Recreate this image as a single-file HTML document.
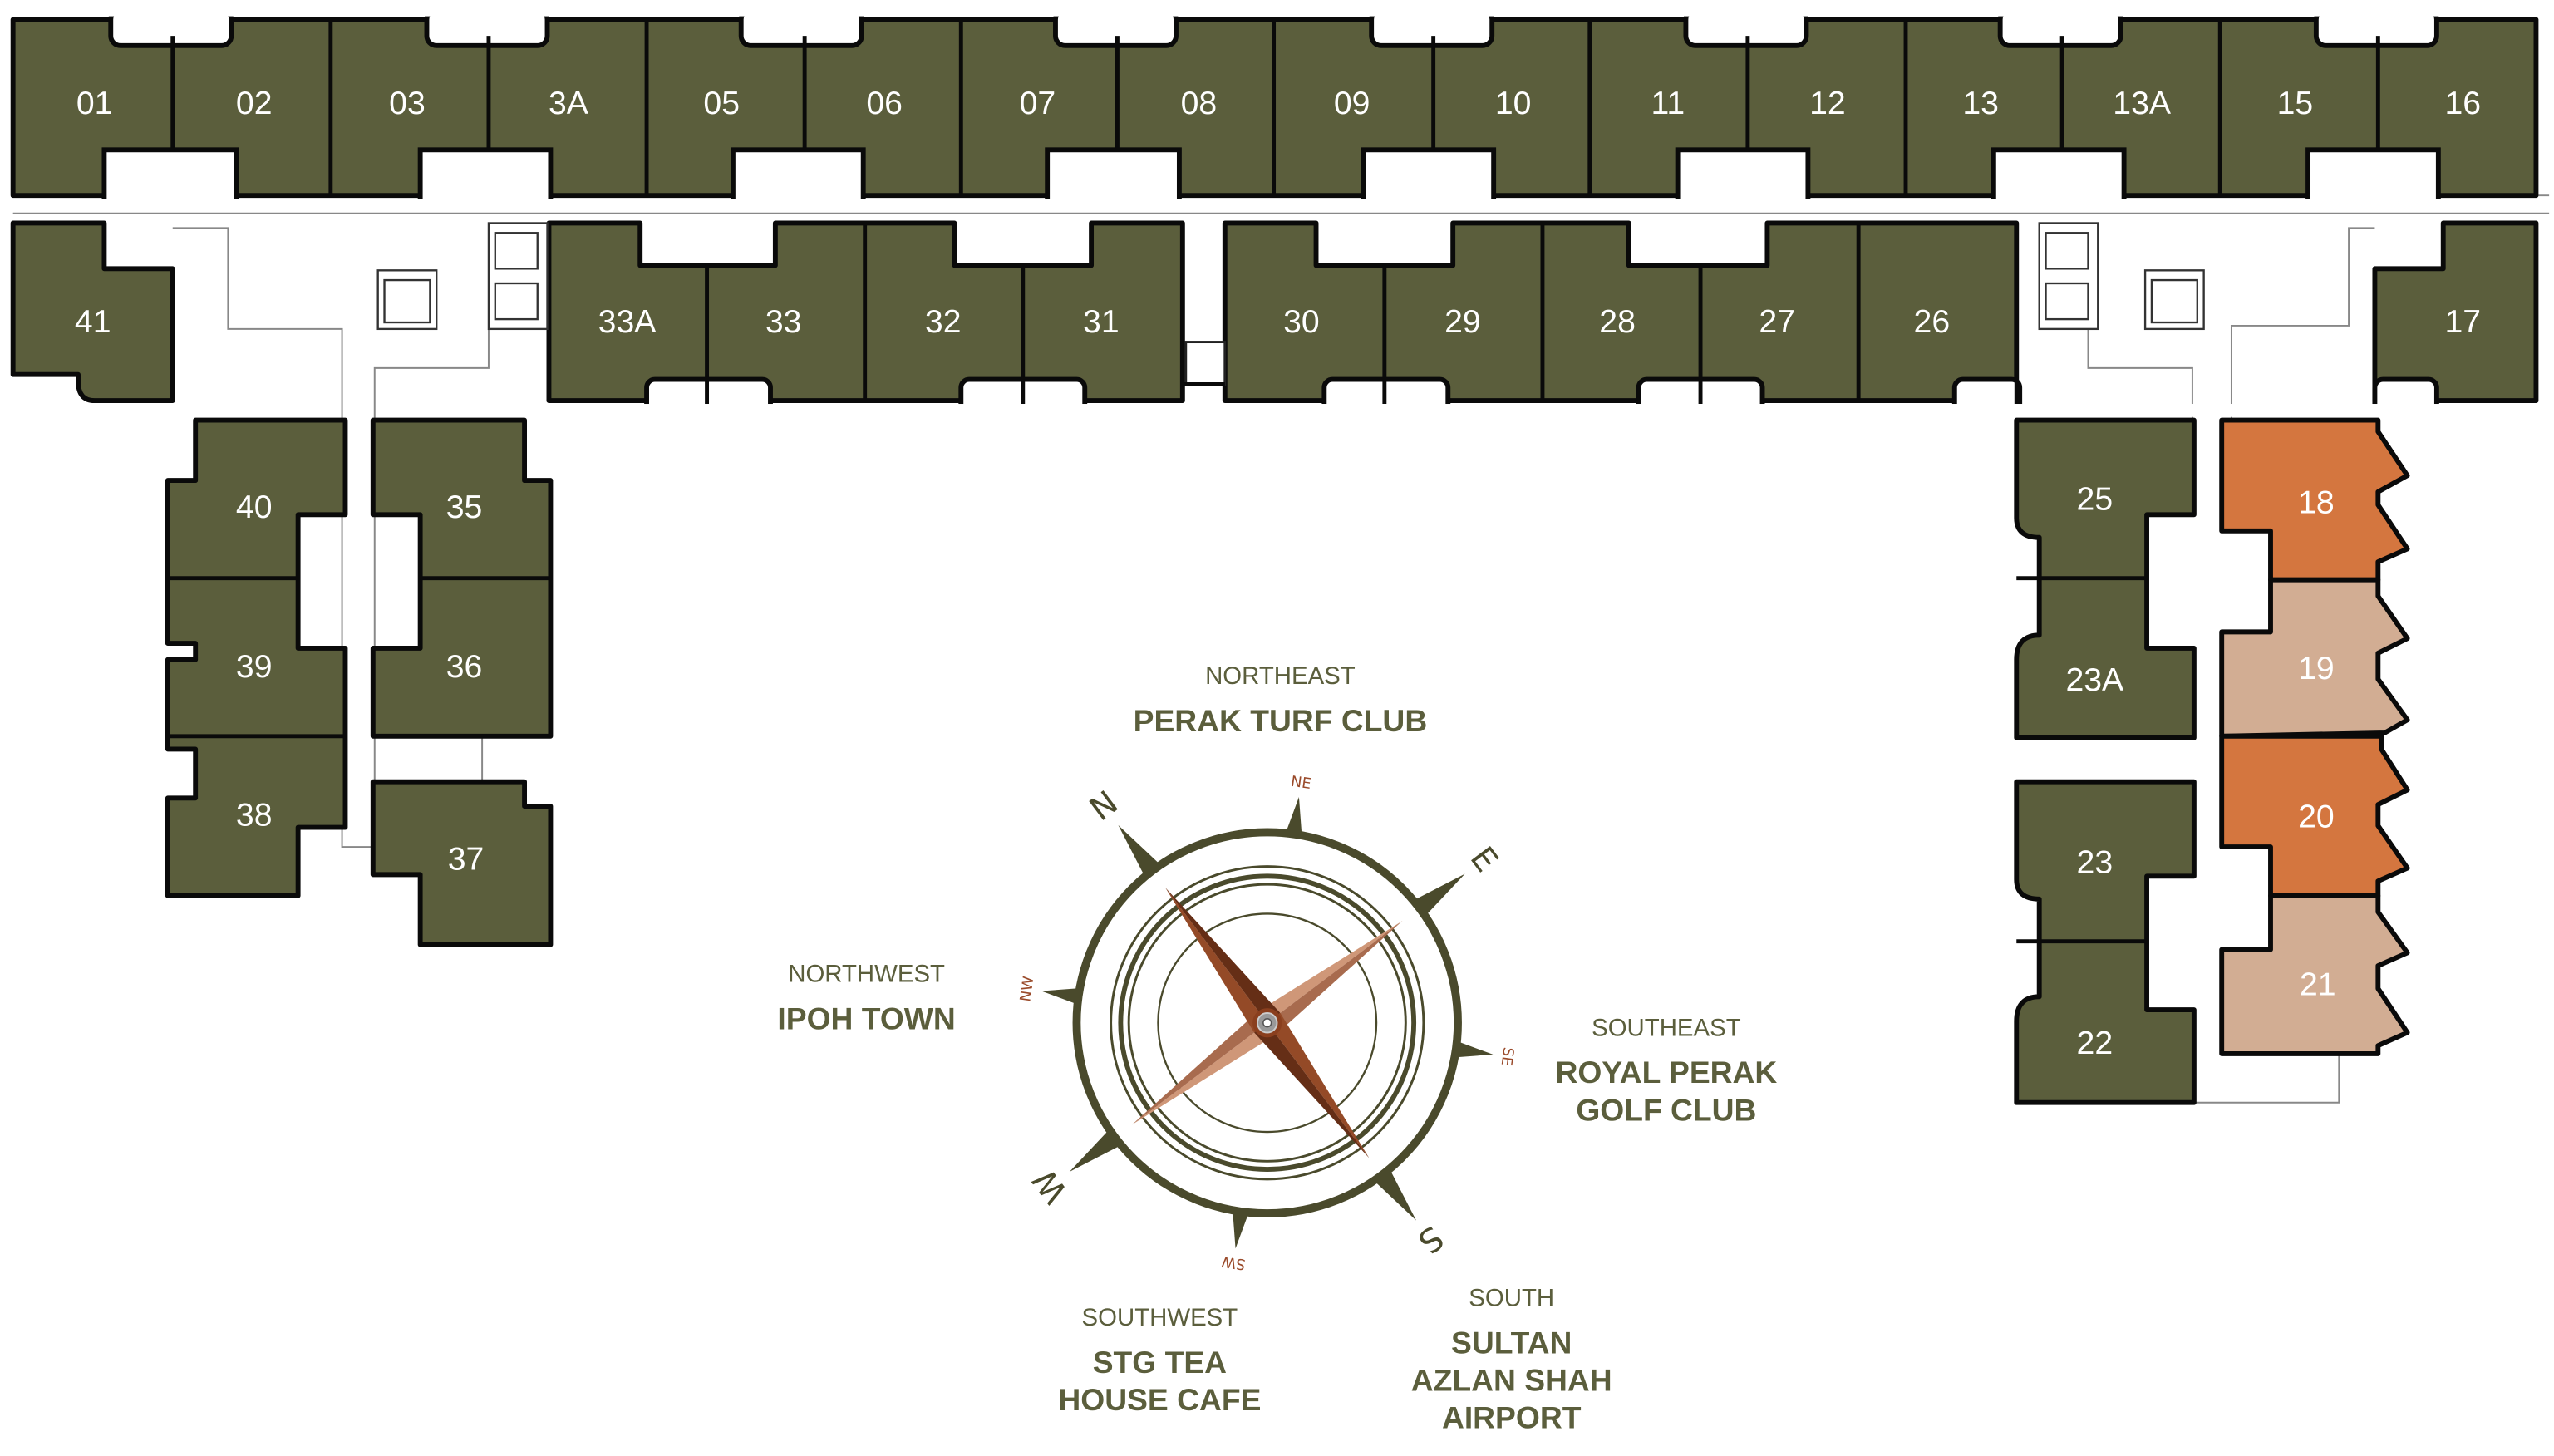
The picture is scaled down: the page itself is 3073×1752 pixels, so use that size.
<!DOCTYPE html>
<html><head><meta charset="utf-8"><style>
html,body{margin:0;padding:0;background:#fff;}
svg{display:block;}
.u{fill:#5b5e3c;stroke:#0a0a0a;stroke-width:3;stroke-linejoin:round;}
.w{fill:#fff;stroke:#0a0a0a;stroke-width:3;}
.n{font-family:"Liberation Sans",sans-serif;font-size:20px;fill:#fff;text-anchor:middle;}
.d{stroke:#0a0a0a;stroke-width:2.5;}
.g{stroke:#888;stroke-width:1;fill:none;}
.lt{font-family:"Liberation Sans",sans-serif;font-size:15px;fill:#5b5e3c;text-anchor:middle;}
.lb{font-family:"Liberation Sans",sans-serif;font-size:19px;font-weight:bold;fill:#5b5e3c;text-anchor:middle;}
</style></head><body>
<svg width="3073" height="1752" viewBox="0 0 1568 894" preserveAspectRatio="none" xmlns="http://www.w3.org/2000/svg">
<!-- corridor lines -->
<line class="g" x1="8" y1="120" x2="1565" y2="120"/>
<line class="g" x1="8" y1="131" x2="1565" y2="131"/>
<polyline class="g" points="106,140 140,140 140,202 210,202 210,520 229,520"/>
<polyline class="g" points="300,202 300,226 230,226 230,480"/>
<polyline class="g" points="1282,202 1282,226 1346,226 1346,258"/>
<polyline class="g" points="1458,140 1442,140 1442,200 1370,200 1370,258"/>
<polyline class="g" points="1347,677 1436,677 1436,647"/>
<line class="g" x1="296" y1="452" x2="296" y2="480"/>

<!-- top row -->
<rect class="u" x="8" y="12" width="1549" height="108"/>
<g>
<rect class="w" x="64" y="92" width="81" height="32"/>
<rect class="w" x="258" y="92" width="80" height="32"/>
<rect class="w" x="450" y="92" width="80" height="32"/>
<rect class="w" x="643" y="92" width="81" height="32"/>
<rect class="w" x="837" y="92" width="80" height="32"/>
<rect class="w" x="1030" y="92" width="80" height="32"/>
<rect class="w" x="1224" y="92" width="80" height="32"/>
<rect class="w" x="1417" y="92" width="80" height="32"/>
<rect class="w" x="68" y="6" width="74" height="22" rx="6"/>
<rect class="w" x="262" y="6" width="74" height="22" rx="6"/>
<rect class="w" x="455" y="6" width="74" height="22" rx="6"/>
<rect class="w" x="648" y="6" width="74" height="22" rx="6"/>
<rect class="w" x="842" y="6" width="74" height="22" rx="6"/>
<rect class="w" x="1035" y="6" width="74" height="22" rx="6"/>
<rect class="w" x="1228" y="6" width="74" height="22" rx="6"/>
<rect class="w" x="1422" y="6" width="74" height="22" rx="6"/>
<rect x="0" y="0" width="1568" height="10" fill="#fff"/>
<rect x="0" y="122" width="1568" height="8" fill="#fff"/>
</g>
<g class="d">
<line x1="106" y1="22" x2="106" y2="92"/><line x1="203" y1="12" x2="203" y2="120"/>
<line x1="300" y1="22" x2="300" y2="92"/><line x1="397" y1="12" x2="397" y2="120"/>
<line x1="494" y1="22" x2="494" y2="92"/><line x1="590" y1="12" x2="590" y2="120"/>
<line x1="686" y1="22" x2="686" y2="92"/><line x1="782" y1="12" x2="782" y2="120"/>
<line x1="880" y1="22" x2="880" y2="92"/><line x1="976" y1="12" x2="976" y2="120"/>
<line x1="1073" y1="22" x2="1073" y2="92"/><line x1="1170" y1="12" x2="1170" y2="120"/>
<line x1="1266" y1="22" x2="1266" y2="92"/><line x1="1363" y1="12" x2="1363" y2="120"/>
<line x1="1460" y1="22" x2="1460" y2="92"/>
</g>
<g class="n">
<text x="58" y="70">01</text><text x="156" y="70">02</text><text x="250" y="70">03</text><text x="349" y="70">3A</text>
<text x="443" y="70">05</text><text x="543" y="70">06</text><text x="637" y="70">07</text><text x="736" y="70">08</text>
<text x="830" y="70">09</text><text x="929" y="70">10</text><text x="1024" y="70">11</text><text x="1122" y="70">12</text>
<text x="1216" y="70">13</text><text x="1315" y="70">13A</text><text x="1409" y="70">15</text><text x="1512" y="70">16</text>
</g>

<!-- row 2 -->
<path class="u" d="M8,137 H64 V165 H106 V246 H58 Q48,246 48,234 V230 H8 Z"/>
<path class="u" d="M337,137 H393 V163 H476 V137 H586 V163 H670 V137 H726 V246 H337 Z"/>
<path class="u" d="M752,137 H808 V163 H892 V137 H1000 V163 H1085 V137 H1238 V246 H752 Z"/>
<path class="u" d="M1500,137 H1557 V246 H1458 V165 H1500 Z"/>
<g>
<rect class="w" x="397" y="233" width="76" height="20" rx="5"/>
<rect class="w" x="590" y="233" width="76" height="20" rx="5"/>
<rect class="w" x="813" y="233" width="76" height="20" rx="5"/>
<rect class="w" x="1006" y="233" width="76" height="20" rx="5"/>
<rect class="w" x="1200" y="233" width="40" height="20" rx="5"/>
<rect class="w" x="1458" y="233" width="38" height="20" rx="5"/>
<rect x="330" y="248" width="1240" height="8" fill="#fff"/>
</g>
<g class="d">
<line x1="434" y1="163" x2="434" y2="248"/><line x1="531" y1="137" x2="531" y2="246"/><line x1="628" y1="163" x2="628" y2="248"/>
<line x1="850" y1="163" x2="850" y2="248"/><line x1="947" y1="137" x2="947" y2="246"/><line x1="1044" y1="163" x2="1044" y2="248"/><line x1="1141" y1="137" x2="1141" y2="246"/>
<line x1="1238" y1="233" x2="1238" y2="248"/><line x1="1458" y1="233" x2="1458" y2="248"/>
</g>
<rect x="728" y="210" width="24" height="26" fill="#fff" stroke="#222" stroke-width="1.5"/>
<line class="d" x1="726" y1="236" x2="752" y2="236"/>
<g class="n">
<text x="57" y="204">41</text><text x="385" y="204">33A</text><text x="481" y="204">33</text><text x="579" y="204">32</text><text x="676" y="204">31</text>
<text x="799" y="204">30</text><text x="898" y="204">29</text><text x="993" y="204">28</text><text x="1091" y="204">27</text><text x="1186" y="204">26</text><text x="1512" y="204">17</text>
</g>
<!-- lifts -->
<g fill="#fff" stroke="#333" stroke-width="1.2">
<rect x="232" y="166" width="36" height="36"/><rect x="236" y="172" width="28" height="26"/>
<rect x="300" y="137" width="36" height="65"/><rect x="304" y="143" width="26" height="22"/><rect x="304" y="174" width="26" height="22"/>
<rect x="1252" y="137" width="36" height="65"/><rect x="1256" y="143" width="26" height="22"/><rect x="1256" y="174" width="26" height="22"/>
<rect x="1317" y="166" width="36" height="36"/><rect x="1321" y="172" width="28" height="26"/>
</g>

<!-- left wing -->
<path class="u" d="M120,258 H212 V316 H183 V398 H212 V508 H183 V550 H103 V490 H120 V460 H103 V405 H120 V395 H103 V295 H120 Z"/>
<g class="d"><line x1="103" y1="355" x2="183" y2="355"/><line x1="103" y1="452" x2="212" y2="452"/></g>
<path class="u" d="M229,258 H322 V295 H338 V452 H229 V398 H258 V316 H229 Z"/>
<line class="d" x1="258" y1="355" x2="338" y2="355"/>
<path class="u" d="M229,480 H322 V495 H338 V580 H258 V537 H229 Z"/>
<g class="n"><text x="156" y="318">40</text><text x="156" y="416">39</text><text x="156" y="507">38</text>
<text x="285" y="318">35</text><text x="285" y="416">36</text><text x="286" y="534">37</text></g>

<!-- right wing green -->
<path class="u" d="M1238,258 H1347 V316 H1318 V398 H1347 V453 H1238 V405 Q1238,390 1252,390 V330 Q1238,330 1238,318 Z"/>
<line class="d" x1="1238" y1="355" x2="1318" y2="355"/>
<path class="u" d="M1238,480 H1347 V538 H1318 V620 H1347 V677 H1238 V627 Q1238,612 1252,612 V552 Q1238,552 1238,540 Z"/>
<line class="d" x1="1238" y1="578" x2="1318" y2="578"/>
<g class="n"><text x="1286" y="313">25</text><text x="1286" y="424">23A</text><text x="1286" y="536">23</text><text x="1286" y="647">22</text></g>

<!-- right wing colored -->
<g stroke="#0a0a0a" stroke-width="3" stroke-linejoin="round">
<polygon fill="#d4763f" points="1364,258 1460,258 1460,265 1478,292 1460,302 1460,310 1478,337 1460,345 1460,356 1394,356 1394,326 1364,326"/>
<polygon fill="#d2ad93" points="1394,356 1460,356 1460,366 1478,392 1460,401 1460,417 1478,442 1464,450 1364,452 1364,388 1394,388"/>
<polygon fill="#d4763f" points="1364,452 1462,452 1462,460 1478,485 1460,494 1460,507 1478,533 1460,541 1460,550 1394,550 1394,520 1364,520"/>
<polygon fill="#d2ad93" points="1394,550 1460,550 1460,560 1478,585 1460,593 1460,607 1478,634 1460,642 1460,647 1364,647 1364,583 1394,583"/>
</g>
<g class="n"><text x="1422" y="315">18</text><text x="1422" y="417">19</text><text x="1422" y="508">20</text><text x="1423" y="611">21</text></g>

<!-- labels -->
<text class="lt" x="786" y="420">NORTHEAST</text>
<text class="lb" x="786" y="449">PERAK TURF CLUB</text>
<text class="lt" x="532" y="603">NORTHWEST</text>
<text class="lb" x="532" y="632">IPOH TOWN</text>
<text class="lt" x="1023" y="636">SOUTHEAST</text>
<text class="lb" x="1023" y="665">ROYAL PERAK</text>
<text class="lb" x="1023" y="688">GOLF CLUB</text>
<text class="lt" x="712" y="814">SOUTHWEST</text>
<text class="lb" x="712" y="843">STG TEA</text>
<text class="lb" x="712" y="866">HOUSE CAFE</text>
<text class="lt" x="928" y="802">SOUTH</text>
<text class="lb" x="928" y="831">SULTAN</text>
<text class="lb" x="928" y="854">AZLAN SHAH</text>
<text class="lb" x="928" y="877">AIRPORT</text>

<!-- compass -->
<g transform="translate(778,628)">
<circle r="117" fill="none" stroke="#4a4a2c" stroke-width="5"/>
<circle r="96" fill="none" stroke="#4a4a2c" stroke-width="1.5"/>
<circle r="90" fill="none" stroke="#4a4a2c" stroke-width="3"/>
<circle r="85" fill="none" stroke="#4a4a2c" stroke-width="1.5"/>
<circle r="67" fill="none" stroke="#4a4a2c" stroke-width="1.2"/>
<g transform="rotate(-37)" fill="#4a4a2c">
<polygon points="-6,-117 0,-152 6,-117"/>
<polygon points="-6,117 0,152 6,117"/>
<polygon points="-117,-6 -152,0 -117,6"/>
<polygon points="117,-6 152,0 117,6"/>
<g transform="rotate(45)">
<polygon points="-5,-117 0,-140 5,-117"/>
<polygon points="-5,117 0,140 5,117"/>
<polygon points="-117,-5 -140,0 -117,5"/>
<polygon points="117,-5 140,0 117,5"/>
</g>
<text x="0" y="-160" font-family="DejaVu Sans,sans-serif" font-size="20" text-anchor="middle" fill="#4a4a2c">N</text>
<text x="0" y="-160" transform="rotate(90)" font-family="DejaVu Sans,sans-serif" font-size="20" text-anchor="middle" fill="#4a4a2c">E</text>
<text x="0" y="-160" transform="rotate(180)" font-family="DejaVu Sans,sans-serif" font-size="20" text-anchor="middle" fill="#4a4a2c">S</text>
<text x="0" y="-160" transform="rotate(270)" font-family="DejaVu Sans,sans-serif" font-size="20" text-anchor="middle" fill="#4a4a2c">W</text>
<g font-family="DejaVu Sans,sans-serif" font-size="9" text-anchor="middle" fill="#9a4a2a">
<text x="0" y="-146" transform="rotate(45)">NE</text>
<text x="0" y="-146" transform="rotate(135)">SE</text>
<text x="0" y="-146" transform="rotate(225)">SW</text>
<text x="0" y="-146" transform="rotate(315)">NW</text>
</g>
<polygon points="0,0 104,0 0,-9" fill="#cf9778"/>
<polygon points="0,0 104,0 0,9" fill="#a86b4e"/>
<polygon points="0,0 -104,0 0,9" fill="#cf9778"/>
<polygon points="0,0 -104,0 0,-9" fill="#a86b4e"/>
<polygon points="0,0 0,-104 -10,0" fill="#944a27"/>
<polygon points="0,0 0,-104 10,0" fill="#652e16"/>
<polygon points="0,0 0,104 10,0" fill="#944a27"/>
<polygon points="0,0 0,104 -10,0" fill="#652e16"/>
</g>
<circle r="9" fill="#8a3f1e"/>
<circle r="6" fill="#999" stroke="#ccc" stroke-width="1"/>
<circle r="2.5" fill="#fff" stroke="#555" stroke-width="0.8"/>
</g>
</svg>
</body></html>
